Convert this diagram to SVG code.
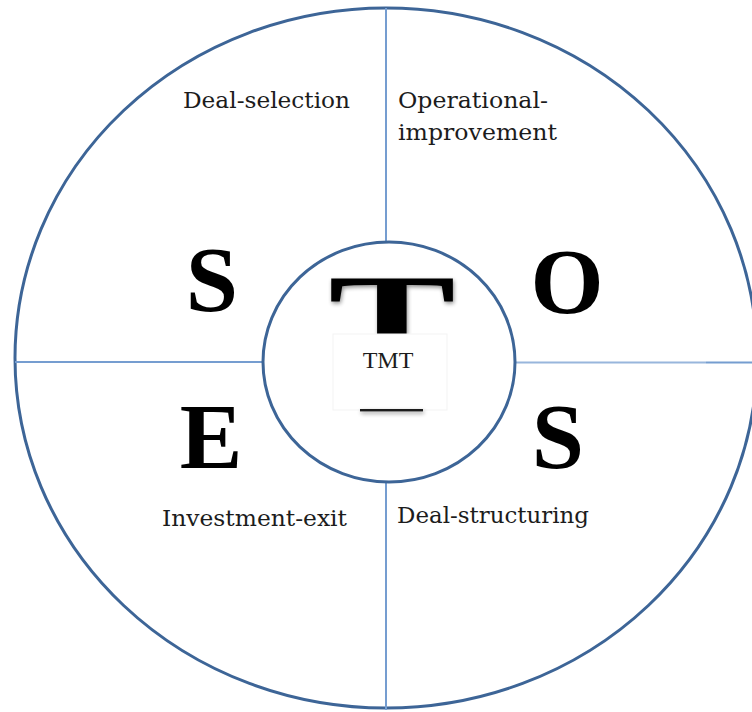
<svg xmlns="http://www.w3.org/2000/svg" width="752" height="712" viewBox="0 0 752 712">
  <defs>
    <style>
      .ring { fill: none; stroke: #3d6597; stroke-width: 3; }
      .divider { stroke: #759dd0; stroke-width: 2; fill: none; }
      .label { font-family: "DejaVu Serif", "Liberation Serif", serif; font-size: 22.5px; fill: #1c1c1c; }
      .big { font-family: "Liberation Serif", "Times New Roman", serif; font-weight: bold; font-size: 94px; fill: #000; text-anchor: middle; }
      .hub-t { font-size: 125px; }
    </style>
    <filter id="soft" filterUnits="userSpaceOnUse" x="300" y="250" width="180" height="190">
      <feGaussianBlur in="SourceAlpha" stdDeviation="2"/>
      <feOffset dx="1" dy="2"/>
      <feComponentTransfer><feFuncA type="linear" slope="0.45"/></feComponentTransfer>
      <feMerge><feMergeNode/><feMergeNode in="SourceGraphic"/></feMerge>
    </filter>
    <clipPath id="hub-cap">
      <rect x="300" y="250" width="180" height="84"/>
    </clipPath>
  </defs>

  <rect width="752" height="712" fill="#fff"/>

  <!-- outer ring -->
  <g id="outer-ring">
    <ellipse class="ring" cx="386" cy="358" rx="371" ry="350"/>
  </g>

  <!-- quadrant dividers -->
  <g id="connectors">
    <line class="divider" x1="386" y1="8" x2="386" y2="243"/>
    <line class="divider" x1="386" y1="482" x2="386" y2="710"/>
    <line class="divider" x1="15" y1="362" x2="263" y2="362"/>
    <line class="divider" x1="515" y1="362.5" x2="706" y2="362.5" stroke-opacity="0.75"/>
    <line class="divider" x1="706" y1="362.5" x2="752" y2="362.5"/>
  </g>

  <!-- centre hub -->
  <g id="hub">
    <ellipse class="ring" cx="389" cy="362" rx="126" ry="120" fill="#fff"/>
    <g filter="url(#soft)">
      <g clip-path="url(#hub-cap)">
        <text class="big hub-t" transform="translate(392,361) scale(1.53,1)" x="0" y="0">T</text>
      </g>
    </g>
    <rect x="333" y="334" width="114" height="76" fill="#fff" stroke="#f3f3f3" stroke-width="1"/>
    <text x="388" y="368" text-anchor="middle" font-family="Liberation Serif, serif" font-size="24" fill="#1c1c1c">TMT</text>
    <rect x="360" y="409" width="63" height="2.4" fill="#1c1c1c" filter="url(#soft)"/>
  </g>

  <!-- quadrant S : deal selection -->
  <g id="q-selection">
    <text class="big" x="212" y="311">S</text>
    <text class="label" x="183" y="108" textLength="167" lengthAdjust="spacingAndGlyphs">Deal-selection</text>
  </g>

  <!-- quadrant O : operational improvement -->
  <g id="q-operational">
    <text class="big" x="567" y="313">O</text>
    <text class="label" x="398" y="108" textLength="150" lengthAdjust="spacingAndGlyphs">Operational-</text>
    <text class="label" x="398" y="140" textLength="159" lengthAdjust="spacingAndGlyphs">improvement</text>
  </g>

  <!-- quadrant S : deal structuring -->
  <g id="q-structuring">
    <text class="big" x="558" y="468">S</text>
    <text class="label" x="397" y="523" textLength="192" lengthAdjust="spacingAndGlyphs">Deal-structuring</text>
  </g>

  <!-- quadrant E : investment exit -->
  <g id="q-exit">
    <text class="big" x="211" y="468">E</text>
    <text class="label" x="162" y="526" textLength="185" lengthAdjust="spacingAndGlyphs">Investment-exit</text>
  </g>
</svg>
